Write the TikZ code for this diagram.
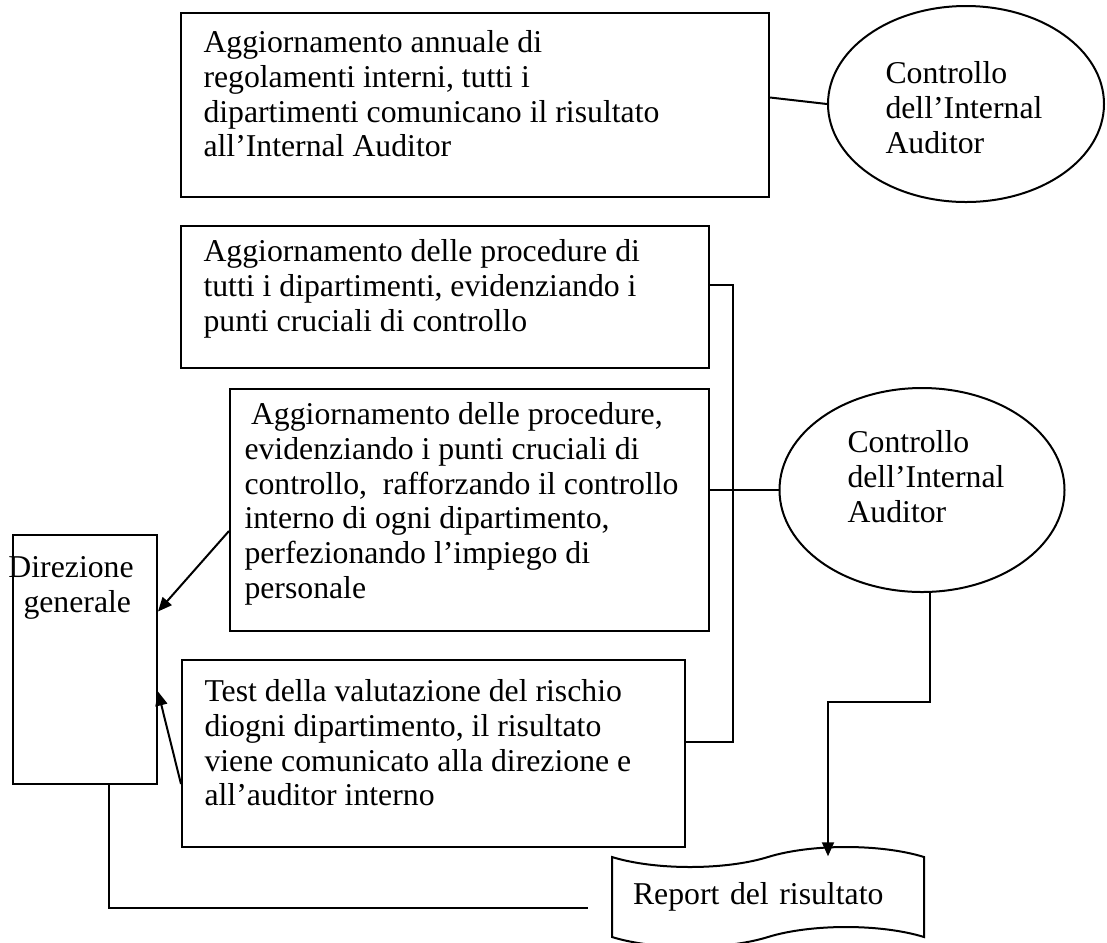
\documentclass[tikz,border=0pt]{standalone}
\usepackage{fontspec}
\setmainfont{Liberation Serif}
\usetikzlibrary{shapes.geometric, shapes.symbols, arrows.meta, positioning, calc}

\newcommand{\pxl}{0.4pt}

\tikzset{
  tbox/.style={draw, line width=0.8pt, rectangle, anchor=north west, inner sep=0pt},
  txt/.style={anchor=north west, inner sep=0pt, align=left, font=\fontsize{12.7}{13.9}\selectfont},
  ctrl/.style={draw, line width=0.8pt, ellipse, inner sep=0pt},
  link/.style={line width=0.8pt},
  arr/.style={line width=0.8pt, -{Triangle[length=5.6pt, width=4.8pt]}}
}

\begin{document}
\begin{tikzpicture}[x=0.4pt, y=-0.4pt]
\useasboundingbox (0,0) rectangle (1107,942);
\clip (0,0) rectangle (1107,942);
% Boxes
\node[tbox, minimum width=588*\pxl, minimum height=184*\pxl] (regol) at (180,12) {};
\node[tbox, minimum width=528*\pxl, minimum height=142*\pxl] (proc) at (180,225) {};
\node[tbox, minimum width=479*\pxl, minimum height=242*\pxl] (rafforz) at (229,388) {};
\node[tbox, minimum width=503*\pxl, minimum height=187*\pxl] (test) at (181,659) {};
\node[tbox, minimum width=144*\pxl, minimum height=249*\pxl] (dir) at (12,534) {};
\node[txt] (regol-t) at (203,30) {Aggiornamento annuale di\\regolamenti interni, tutti i\\dipartimenti comunicano il risultato\\all’Internal Auditor};
\node[txt] (proc-t) at (203,239) {Aggiornamento delle procedure di\\tutti i dipartimenti, evidenziando i\\punti cruciali di controllo};
\node[txt] (rafforz-t) at (244,402) {\hspace*{2.6pt}Aggiornamento delle procedure,\\evidenziando i punti cruciali di\\controllo,\ \ rafforzando il controllo\\interno di ogni dipartimento,\\perfezionando l’impiego di\\personale};
\node[txt] (test-t) at (204,679) {Test della valutazione del rischio\\diogni dipartimento, il risultato\\viene comunicato alla direzione e\\all’auditor interno};
\node[txt] (dir-t) at (8,556) {Direzione\\\hspace*{6pt}generale};
% Auditor ellipses
\node[ctrl, minimum width=276*\pxl, minimum height=196*\pxl] (ctrlA) at (966,104) {};
\node[ctrl, minimum width=285*\pxl, minimum height=204*\pxl] (ctrlB) at (922,490) {};
\node[txt] (ctrlA-t) at (885,61) {Controllo\\dell’Internal\\Auditor};
\node[txt] (ctrlB-t) at (847,430) {Controllo\\dell’Internal\\Auditor};
% Report
\node[tape, draw, line width=0.8pt, minimum width=312*\pxl, minimum height=100*\pxl,
  tape bend height=20*\pxl, text width=270*\pxl, align=left,
  font=\fontsize{12.7}{13.9}\selectfont] (rep) at (768,897) {Report del risultato};
\coordinate (brk) at (733,742);
\coordinate (drop) at (828,702);
\coordinate (repin) at (588,908);
% Connectors
\draw[link] ([yshift=3pt]regol.east) -- (ctrlA.west);
\draw[link] ([yshift=4.8pt]proc.east) -| (brk) -- (brk -| test.east);
\draw[link] (rafforz.east |- ctrlB.west) -- (ctrlB.west);
\draw[arr] ([yshift=-8.4pt]rafforz.west) -- ([yshift=19.2pt]dir.east);
\draw[arr] ([yshift=-12.2pt]test.west) -- ([yshift=-12.8pt]dir.east);
\draw[link] ([xshift=9.6pt]dir.south) |- (repin);
\draw[arr] ([xshift=3pt]ctrlB.south) |- (drop) -- (drop |- rep.north);
\end{tikzpicture}
\end{document}
